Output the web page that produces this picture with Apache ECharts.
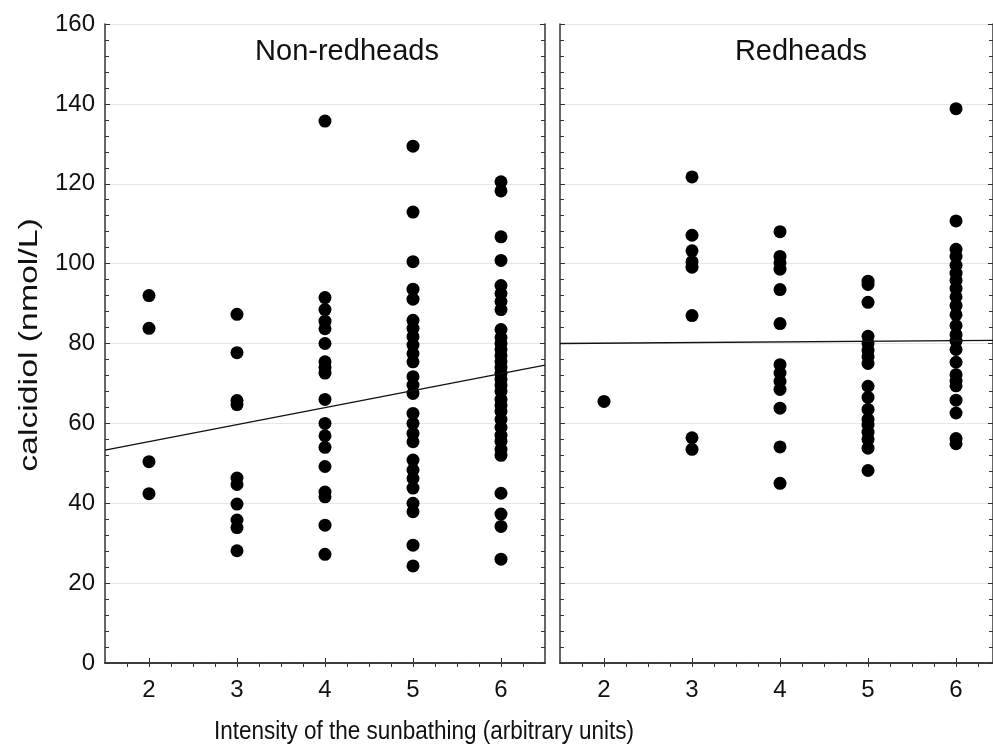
<!DOCTYPE html>
<html>
<head>
<meta charset="utf-8">
<script src="https://cdn.jsdelivr.net/npm/echarts@6/dist/echarts.min.js"></script>
<style>
html, body { margin: 0; padding: 0; background: #fff; }
#chart { width: 993px; height: 748px; }
</style>
</head>
<body>
<div id="chart"></div>
<script>
// tick labels of the x axis (sunbathing intensity)
var xTicks = [2, 3, 4, 5, 6];

// calcidiol values, non-redheads, by intensity
var non2 = [92, 83.8, 50.4, 42.4];
var non3 = [87.3, 77.7, 65.7, 64.7, 46.3, 44.7, 39.8, 35.8, 33.9, 28.1];
var non4 = [135.7, 91.5, 88.5, 85.6, 83.7, 80, 75.4, 74, 72.6, 66, 60, 56.9, 54, 49.2, 42.8, 41.6, 34.5, 27.2];
var non5 = [129.4, 112.9, 100.5, 93.6, 91.1, 85.8, 83.8, 81.7, 79.6, 77.5, 75.4, 71.7, 69.6, 67.5, 62.5, 60, 57.5, 55.4, 50.8, 48.3, 46.2, 43.8, 40, 37.9, 29.5, 24.3];
var non6 = [120.5, 118.2, 106.7, 100.8, 94.5, 92.5, 90.5, 88.5, 83.5, 81.5, 80, 78.5, 77, 75.5, 74, 72.5, 71, 69.5, 68, 66, 64.5, 63, 61, 59, 57, 55.5, 53.5, 52, 42.5, 37.3, 34.2, 26];

// calcidiol values, redheads, by intensity
var red2 = [65.5];
var red3 = [121.7, 107.1, 103.2, 100.5, 99.1, 87, 56.4, 53.5];
var red4 = [108, 101.8, 100.2, 98.6, 93.5, 85, 74.7, 72.6, 70.5, 68.5, 63.8, 54.1, 45];
var red5 = [95.6, 94.8, 90.3, 81.8, 80, 78.3, 76.7, 75, 69.3, 66.5, 63.5, 61, 59.6, 57.8, 56, 53.8, 48.2];
var red6 = [138.8, 110.7, 103.6, 101.8, 99.6, 97.6, 95.8, 93.8, 91.7, 89.5, 87.2, 84.5, 82.2, 80.6, 78.5, 75.3, 72.2, 70.6, 69.4, 65.8, 62.6, 56.2, 54.9];

// fitted regression lines (ends at the axis limits)
var fitNon = [[1.5, 53.3], [6.5, 74.6]];
var fitRed = [[1.5, 80.0], [6.42, 80.8]];

function pairs(groups) {
  var out = [];
  groups.forEach(function (vals, i) {
    vals.forEach(function (v) { out.push([xTicks[i], v]); });
  });
  return out;
}

var nonPoints = pairs([non2, non3, non4, non5, non6]);
var redPoints = pairs([red2, red3, red4, red5, red6]);

var quarterTicks = [];
for (var q = 1.75; q <= 6.25 + 1e-9; q += 0.25) quarterTicks.push(q);

var font = "'Liberation Sans', Arial, sans-serif";
var frame = { show: true, lineStyle: { color: '#333', width: 1.5 } };

// the right panel is cut by the picture edge, so its x range stops short of 6.5
function xAxes(gi, xMax) {
  return [
    {
      gridIndex: gi, type: 'value', min: 1.5, max: xMax, position: 'bottom',
      axisLine: frame,
      axisTick: { show: true, inside: true, length: 5, customValues: xTicks, lineStyle: { color: '#333' } },
      axisLabel: { customValues: xTicks, fontSize: 24, color: '#111', fontFamily: font, margin: 15 },
      splitLine: { show: false }
    },
    {
      gridIndex: gi, type: 'value', min: 1.5, max: xMax, position: 'top',
      axisLine: frame,
      axisTick: { show: true, inside: true, length: 4, customValues: quarterTicks, lineStyle: { color: '#333' } },
      axisLabel: { show: false },
      splitLine: { show: false }
    }
  ];
}

function yAxes(gi, labels) {
  return [
    {
      gridIndex: gi, type: 'value', min: 0, max: 160, interval: 20, position: 'left',
      axisLine: frame,
      axisTick: { show: true, inside: true, length: 5, lineStyle: { color: '#333' } },
      minorTick: { show: true, splitNumber: 5, length: 4, lineStyle: { color: '#333' } },
      axisLabel: { show: labels, fontSize: 24, color: '#111', fontFamily: font, margin: 10 },
      splitLine: { show: true, lineStyle: { color: '#e6e6e6', width: 1 } }
    },
    {
      gridIndex: gi, type: 'value', min: 0, max: 160, interval: 20, position: 'right',
      axisLine: frame,
      axisTick: { show: true, inside: true, length: 5, lineStyle: { color: '#333' } },
      minorTick: { show: true, splitNumber: 5, length: 4, lineStyle: { color: '#333' } },
      axisLabel: { show: false },
      splitLine: { show: false }
    }
  ];
}

var chart = echarts.init(document.getElementById('chart'));
chart.setOption({
  animation: false,
  backgroundColor: '#fff',
  grid: [
    { left: 105, top: 24, width: 440, height: 639 },
    { left: 560, top: 24, width: 433, height: 639 }
  ],
  xAxis: xAxes(0, 6.5).concat(xAxes(1, 6.42)),
  yAxis: yAxes(0, true).concat(yAxes(1, false)),
  graphic: [
    { type: 'text', x: 347, y: 52, style: { text: 'Non-redheads', fontSize: 29, fontFamily: font, fill: '#111', textAlign: 'center', textVerticalAlign: 'middle' } },
    { type: 'text', x: 801, y: 52, style: { text: 'Redheads', fontSize: 29, fontFamily: font, fill: '#111', textAlign: 'center', textVerticalAlign: 'middle' } },
    { type: 'text', x: 30, y: 345, rotation: Math.PI / 2, scaleX: 1.3, style: { text: 'calcidiol (nmol/L)', fontSize: 26, fontFamily: font, fill: '#111', textAlign: 'center', textVerticalAlign: 'middle' } },
    { type: 'text', x: 424, y: 732, scaleX: 0.9, style: { text: 'Intensity of the sunbathing (arbitrary units)', fontSize: 25, fontFamily: font, fill: '#111', textAlign: 'center', textVerticalAlign: 'middle' } }
  ],
  series: [
    { type: 'line', xAxisIndex: 0, yAxisIndex: 0, data: fitNon, symbol: 'none', lineStyle: { color: '#111', width: 1.3 }, silent: true },
    { type: 'line', xAxisIndex: 2, yAxisIndex: 2, data: fitRed, symbol: 'none', lineStyle: { color: '#111', width: 1.3 }, silent: true },
    { type: 'scatter', xAxisIndex: 0, yAxisIndex: 0, data: nonPoints, symbolSize: 13, itemStyle: { color: '#000', opacity: 1 } },
    { type: 'scatter', xAxisIndex: 2, yAxisIndex: 2, data: redPoints, symbolSize: 13, itemStyle: { color: '#000', opacity: 1 } }
  ]
});
</script>
</body>
</html>
